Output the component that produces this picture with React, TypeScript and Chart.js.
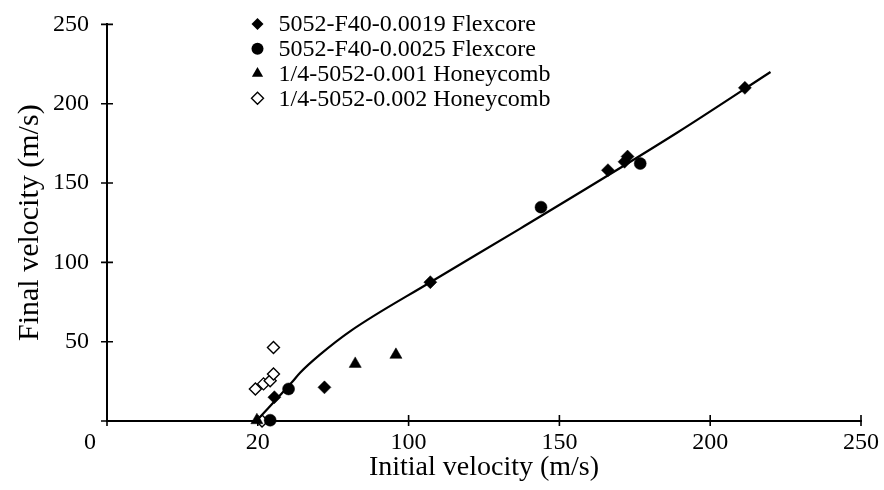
import React, { useEffect, useRef } from "react";
import { Chart, registerables } from "chart.js";

Chart.register(...registerables);

const FONT = "'Liberation Serif', 'Times New Roman', Times, serif";

// Axis ticks (note: the original figure labels the 50 tick as "20")
const xTickValues = [0, 50, 100, 150, 200, 250];
const xTickLabels = ["0", "20", "100", "150", "200", "250"];
const yTickValues = [0, 50, 100, 150, 200, 250];
const yTickLabels = ["", "50", "100", "150", "200", "250"];

const xTitle = "Initial velocity (m/s)";
const yTitle = "Final velocity (m/s)";

const seriesNames = [
  "5052-F40-0.0019 Flexcore",
  "5052-F40-0.0025 Flexcore",
  "1/4-5052-0.001 Honeycomb",
  "1/4-5052-0.002 Honeycomb",
];

// 5052-F40-0.0019 Flexcore (filled diamonds)
const flex19X = [55.5, 72.1, 107.2, 166.1, 171.6, 172.6, 211.5];
const flex19Y = [15, 21.2, 87.5, 158.1, 163.4, 166.7, 210];

// 5052-F40-0.0025 Flexcore (filled circles)
const flex25X = [54.1, 60.2, 143.9, 176.8];
const flex25Y = [0.5, 20.2, 134.8, 162.3];

// 1/4-5052-0.001 Honeycomb (filled triangles)
const hc001X = [49.7, 82.3, 95.8];
const hc001Y = [0.5, 36, 41.7];

// 1/4-5052-0.002 Honeycomb (open diamonds)
const hc002X = [51.4, 49.2, 51.9, 54.1, 55.2, 55.2];
const hc002Y = [0, 20.2, 23.4, 25.4, 29.6, 46.3];

// Fitted curve
const fitX = [49.5, 61.3, 64.1, 70.7, 80.7, 107.2, 137, 189, 220];
const fitY = [0, 24.4, 30.6, 42, 56.7, 87.5, 121.3, 181.7, 220];

const zip = (xs: number[], ys: number[]) => xs.map((x, i) => ({ x, y: ys[i] }));

type MarkerKind = "diamond" | "circle" | "triangle" | "openDiamond";
const legendKinds: MarkerKind[] = ["diamond", "circle", "triangle", "openDiamond"];

function drawMarker(ctx: CanvasRenderingContext2D, kind: MarkerKind, x: number, y: number, r: number) {
  ctx.save();
  ctx.beginPath();
  if (kind === "diamond" || kind === "openDiamond") {
    ctx.moveTo(x - r, y);
    ctx.lineTo(x, y - r);
    ctx.lineTo(x + r, y);
    ctx.lineTo(x, y + r);
    ctx.closePath();
  } else if (kind === "circle") {
    ctx.arc(x, y, r, 0, Math.PI * 2);
  } else {
    const a = (2 * Math.PI) / 3;
    ctx.moveTo(x, y - r);
    ctx.lineTo(x + Math.sin(a) * r, y - Math.cos(a) * r);
    ctx.lineTo(x + Math.sin(2 * a) * r, y - Math.cos(2 * a) * r);
    ctx.closePath();
  }
  if (kind === "openDiamond") {
    ctx.fillStyle = "#fff";
    ctx.fill();
    ctx.lineWidth = 1.4;
    ctx.strokeStyle = "#000";
    ctx.stroke();
  } else {
    ctx.fillStyle = "#000";
    ctx.fill();
  }
  ctx.restore();
}

const axisDecor = {
  id: "axisDecor",
  beforeDatasetsDraw(chart: any) {
    const ctx = chart.ctx as CanvasRenderingContext2D;
    const xs = chart.scales.x;
    const ys = chart.scales.y;
    const x0 = xs.getPixelForValue(0);
    const y0 = ys.getPixelForValue(0);
    ctx.save();
    ctx.strokeStyle = "#000";
    ctx.lineWidth = 1.6;
    ctx.beginPath();
    xTickValues.forEach((v) => {
      const px = xs.getPixelForValue(v);
      ctx.moveTo(px, y0 - 6);
      ctx.lineTo(px, y0 + 5);
    });
    yTickValues.forEach((v) => {
      const py = ys.getPixelForValue(v);
      ctx.moveTo(x0 - 6, py);
      ctx.lineTo(x0 + 6, py);
    });
    ctx.stroke();
    ctx.font = `24px ${FONT}`;
    ctx.fillStyle = "#000";
    ctx.textAlign = "center";
    ctx.textBaseline = "middle";
    ctx.fillText(xTickLabels[0], x0 - 17, y0 + 22);
    ctx.restore();
  },
  afterDraw(chart: any) {
    const ctx = chart.ctx as CanvasRenderingContext2D;
    const area = chart.chartArea;
    const markerX = area.left + 150.5;
    const textX = area.left + 171.5;
    ctx.save();
    ctx.font = `24px ${FONT}`;
    ctx.fillStyle = "#000";
    ctx.textAlign = "left";
    ctx.textBaseline = "middle";
    seriesNames.forEach((name, i) => {
      const y = area.top - 0.5 + i * 24.8;
      drawMarker(ctx, legendKinds[i], markerX, y, legendKinds[i] === "triangle" ? 6.5 : 6);
      ctx.fillStyle = "#000";
      ctx.fillText(name, textX, y + 1);
    });
    ctx.restore();
  },
};

export default function App() {
  const canvasRef = useRef<HTMLCanvasElement | null>(null);

  useEffect(() => {
    if (!canvasRef.current) return;
    const chart = new Chart(canvasRef.current, {
      type: "scatter",
      data: {
        datasets: [
          {
            label: "fit",
            data: zip(fitX, fitY),
            showLine: true,
            borderColor: "#000",
            borderWidth: 2.2,
            pointRadius: 0,
            cubicInterpolationMode: "monotone",
            fill: false,
            clip: false,
          } as any,
          {
            label: seriesNames[0],
            data: zip(flex19X, flex19Y),
            pointStyle: "rectRot",
            pointRadius: 6.5,
            backgroundColor: "#000",
            borderColor: "#000",
            borderWidth: 0.5,
            clip: false,
          } as any,
          {
            label: seriesNames[1],
            data: zip(flex25X, flex25Y),
            pointStyle: "circle",
            pointRadius: 6,
            backgroundColor: "#000",
            borderColor: "#000",
            borderWidth: 0.5,
            clip: false,
          } as any,
          {
            label: seriesNames[2],
            data: zip(hc001X, hc001Y),
            pointStyle: "triangle",
            pointRadius: 7,
            backgroundColor: "#000",
            borderColor: "#000",
            borderWidth: 0.5,
            clip: false,
          } as any,
          {
            label: seriesNames[3],
            data: zip(hc002X, hc002Y),
            pointStyle: "rectRot",
            pointRadius: 6,
            backgroundColor: "#fff",
            borderColor: "#000",
            borderWidth: 1.4,
            clip: false,
          } as any,
        ],
      },
      options: {
        animation: false,
        responsive: true,
        maintainAspectRatio: false,
        layout: { padding: { top: 21, right: 23, left: 0, bottom: 0 } },
        plugins: {
          legend: { display: false },
          tooltip: { enabled: false },
        },
        scales: {
          x: {
            type: "linear",
            min: 0,
            max: 250,
            afterBuildTicks: (s: any) => {
              s.ticks = xTickValues.map((v) => ({ value: v }));
            },
            afterFit: (s: any) => {
              s.height = 69;
            },
            ticks: {
              callback: (_v: any, i: number) => (i === 0 ? "" : xTickLabels[i]),
              font: { family: FONT, size: 24 },
              color: "#000",
              padding: -1,
              maxRotation: 0,
              autoSkip: false,
            },
            grid: { display: false },
            border: { display: true, color: "#000", width: 2 },
            title: {
              display: true,
              text: xTitle,
              color: "#000",
              font: { family: FONT, size: 28 },
              padding: { top: 0, bottom: 6 },
            },
          },
          y: {
            type: "linear",
            min: 0,
            max: 250,
            afterBuildTicks: (s: any) => {
              s.ticks = yTickValues.map((v) => ({ value: v }));
            },
            afterFit: (s: any) => {
              s.width = 107;
            },
            ticks: {
              callback: (_v: any, i: number) => yTickLabels[i],
              font: { family: FONT, size: 24 },
              color: "#000",
              padding: 10,
              autoSkip: false,
            },
            grid: { display: false },
            border: { display: true, color: "#000", width: 2 },
            title: {
              display: true,
              text: yTitle,
              color: "#000",
              font: { family: FONT, size: 30 },
              padding: { top: 12, bottom: 0 },
            },
          },
        },
      } as any,
      plugins: [axisDecor],
    });
    return () => chart.destroy();
  }, []);

  return (
    <div
      style={{
        position: "fixed",
        left: 0,
        top: 0,
        width: 884,
        height: 490,
        background: "#fff",
      }}
    >
      <canvas ref={canvasRef} />
    </div>
  );
}
